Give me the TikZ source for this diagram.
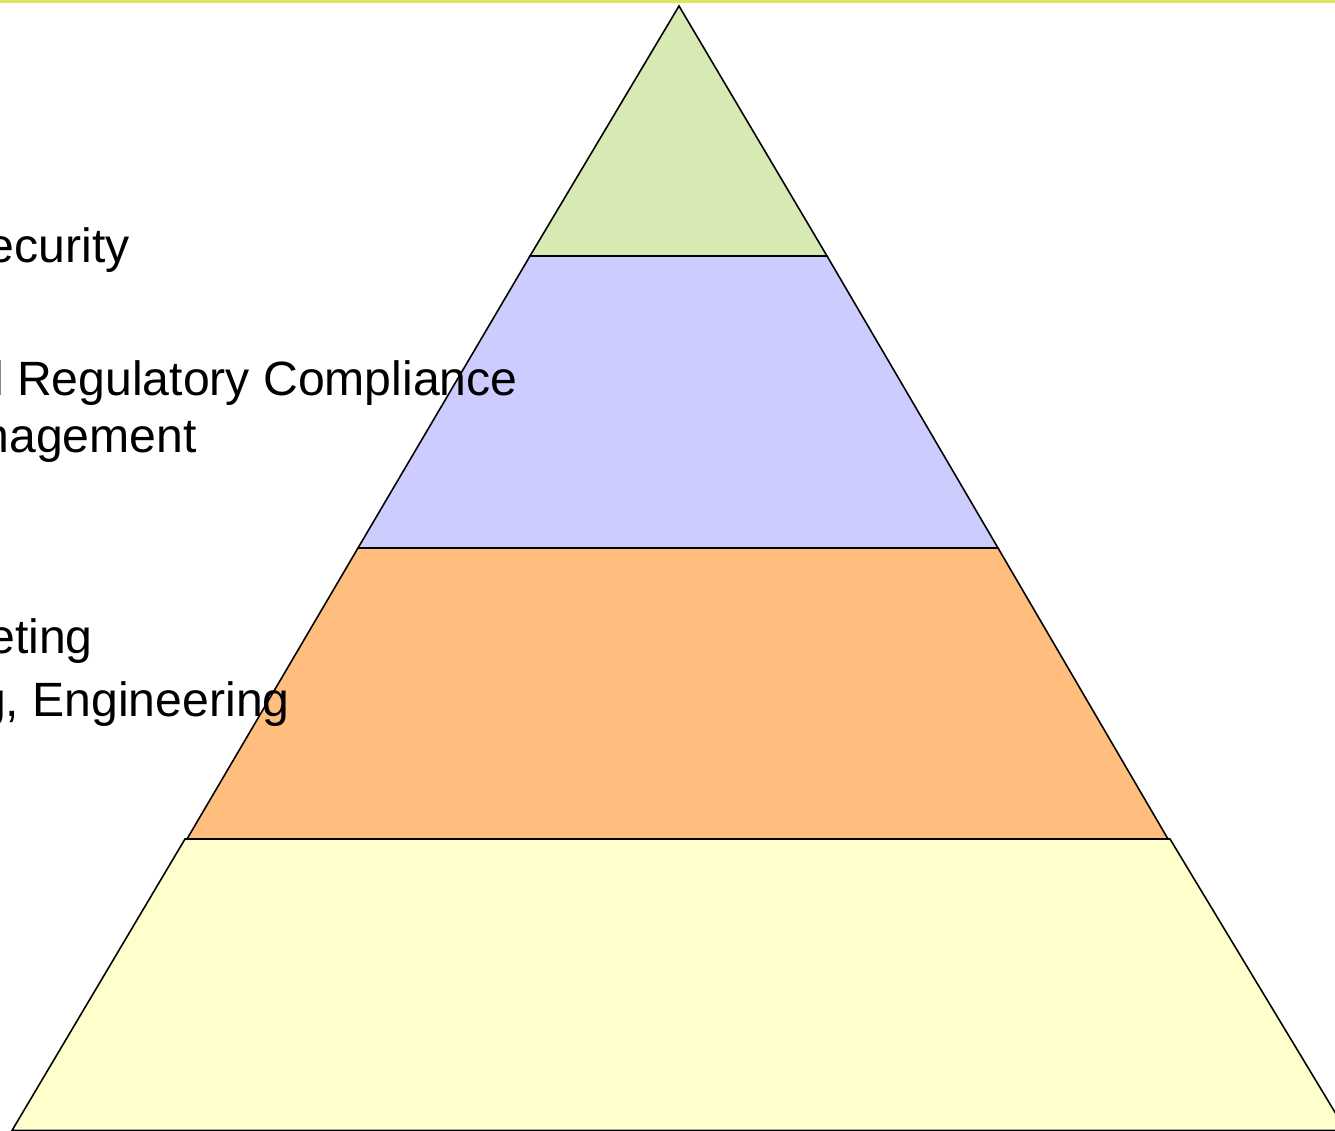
\documentclass[tikz,border=0pt]{standalone}
\usepackage{fontspec}
\setmainfont{Liberation Sans}
\usepackage{xcolor}
\usepackage{tikz}
\usetikzlibrary{calc}
\usetikzlibrary{positioning}

\definecolor{topline}{RGB}{221,229,90}
\definecolor{bandtop}{RGB}{216,234,180}
\definecolor{bandtwo}{RGB}{204,204,255}
\definecolor{bandthree}{RGB}{255,190,125}
\definecolor{bandbase}{RGB}{255,255,204}

\tikzset{
  band/.style={draw=black, line width=0.9pt, line join=miter},
  label/.style={anchor=base east, inner sep=0pt, text=black, font=\fontsize{27.4}{32}\selectfont}
}

\begin{document}
\begin{tikzpicture}[x=0.02cm, y=-0.02cm]
\useasboundingbox (0,0) rectangle (1335,1131);
\fill [topline] (0,0) rectangle (1335,3.5);

% corners of the pyramid
\coordinate (apex) at (679,6);
\coordinate (L1) at (530,256);
\coordinate (R1) at (827,256);
\coordinate (L2) at (358,548);
\coordinate (R2) at (998,548);
\coordinate (L3) at (187,839);
\coordinate (R3) at (1168,839);
\coordinate (L3b) at (185,839);
\coordinate (R3b) at (1170,839);
\coordinate (L4) at (12,1130.5);
\coordinate (R4) at (1346,1130.5);

% fills
\fill [bandtop] (apex) -- (R1) -- (L1) -- cycle;
\fill [bandtwo] (L1) -- (R1) -- (R2) -- (L2) -- cycle;
\fill [bandthree] (L2) -- (R2) -- (R3) -- (L3) -- cycle;
\fill [bandbase] (L3b) -- (R3b) -- (R4) -- (L4) -- cycle;

% texts
\node [label] (sec) at (130,263) {ecurity};
\node [label] (reg) at (518,396) {l Regulatory Compliance};
\node [label] (mgmt) at (197,453) {nagement};
\node [label] (mkt) at (93,653) {eting};
\node [label] (eng) at (290,716) {g, Engineering};

% outlines
\draw [band] (apex) -- (R1) -- (L1) -- cycle;
\draw [band] (L1) -- (R1) -- (R2) -- (L2) -- cycle;
\draw [band] (L2) -- (R2) -- (R3) -- (L3) -- cycle;
\draw [band] (L3b) -- (R3b) -- (R4) -- (L4) -- cycle;
\end{tikzpicture}
\end{document}
